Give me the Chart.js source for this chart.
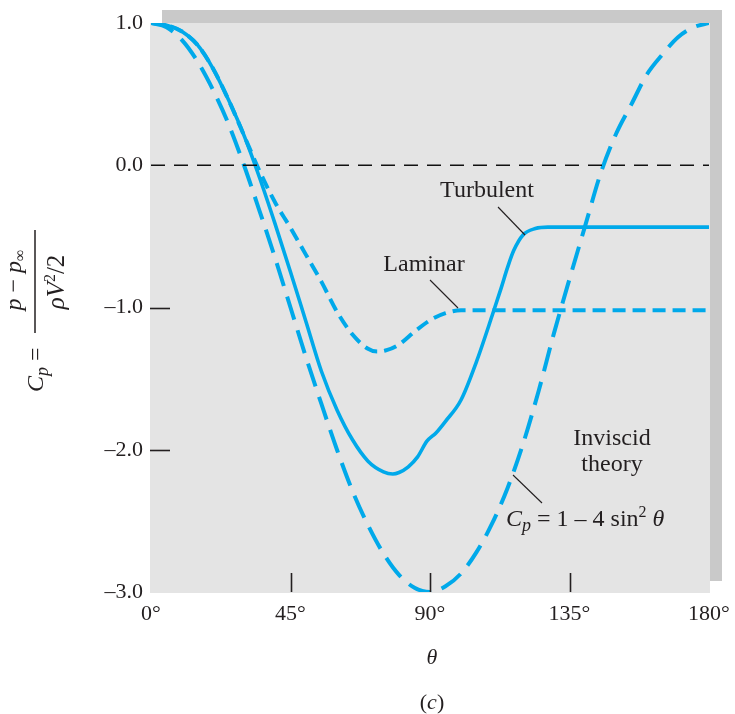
<!DOCTYPE html>
<html>
<head>
<meta charset="utf-8">
<script src="https://cdn.jsdelivr.net/npm/chart.js@4/dist/chart.umd.min.js"></script>
<style>
  html, body { margin: 0; padding: 0; background: #ffffff; }
  #wrap { width: 735px; height: 714px; position: relative; }
</style>
</head>
<body>
<div id="wrap"><canvas id="c" width="735" height="714"></canvas></div>
<script>
// ---- data ----
const thetaInviscid = [0,5,10,15,20,25,30,35,40,45,50,55,60,65,70,75,80,85,90,95,100,105,110,115,120,125,130,135,140,145,150,155,160,165,170,175,180];
const cpInviscid    = [1.0,0.97,0.88,0.73,0.53,0.29,0.0,-0.32,-0.65,-1.0,-1.35,-1.68,-2.0,-2.29,-2.53,-2.73,-2.88,-2.97,-3.0,-2.96,-2.87,-2.72,-2.52,-2.27,-1.96,-1.59,-1.18,-0.80,-0.43,-0.06,0.22,0.43,0.64,0.78,0.90,0.97,1.0];

const thetaTurbulent = [0,5,10,15,20,25,30,35,40,45,50,55,60,65,70,75,78,80,83,86,89,92,95,100,105,110,113,115,117,120,124,128,180];
const cpTurbulent    = [1.0,0.985,0.94,0.846,0.68,0.46,0.21,-0.086,-0.41,-0.75,-1.10,-1.45,-1.72,-1.93,-2.08,-2.155,-2.17,-2.16,-2.12,-2.05,-1.94,-1.88,-1.80,-1.65,-1.38,-1.06,-0.86,-0.72,-0.60,-0.49,-0.445,-0.435,-0.435];

const thetaLaminar = [0,5,10,15,20,25,30,35,40,45,50,55,60,65,70,73,76,80,85,90,95,100,180];
const cpLaminar    = [1.0,0.985,0.94,0.846,0.68,0.46,0.21,-0.04,-0.26,-0.44,-0.63,-0.82,-1.03,-1.19,-1.29,-1.31,-1.30,-1.26,-1.17,-1.09,-1.04,-1.02,-1.02];

const thetaZero = [0,180];
const cpZero    = [0,0];

const xTickValues = [0,45,90,135,180];
const yTickValues = [1,0,-1,-2,-3];
const xMarkTicks = [45,90,135];
const yMarkTicks = [-1,-2];

// ---- styling ----
const BLUE = '#00a9ea';
const INK = '#231f20';
const SERIF = '"Liberation Serif", "Times New Roman", serif';

function pts(xs, ys) { return xs.map((x, i) => ({ x: x, y: ys[i] })); }

function drawRuns(ctx, runs, x, y, align) {
  let total = 0;
  const widths = runs.map(r => {
    ctx.font = (r.it ? 'italic ' : '') + (r.size || 22) + 'px ' + SERIF;
    const w = ctx.measureText(r.t).width;
    total += w;
    return w;
  });
  let cur = align === 'center' ? x - total / 2 : (align === 'right' ? x - total : x);
  runs.forEach((r, i) => {
    ctx.font = (r.it ? 'italic ' : '') + (r.size || 22) + 'px ' + SERIF;
    ctx.fillText(r.t, cur, y + (r.dy || 0));
    cur += widths[i];
  });
}

const decor = {
  id: 'decor',
  beforeDraw(chart) {
    const ctx = chart.ctx, a = chart.chartArea;
    ctx.save();
    ctx.fillStyle = '#ffffff';
    ctx.fillRect(0, 0, chart.width, chart.height);
    // shadow band
    ctx.fillStyle = '#c9c9c9';
    ctx.fillRect(a.left + 11, a.top - 13, a.right - a.left + 2, 13);
    ctx.fillRect(a.right + 1, a.top - 13, 12, a.bottom - a.top + 2);
    // plot background
    ctx.fillStyle = '#e4e4e4';
    ctx.fillRect(a.left - 1, a.top, a.right - a.left + 2, a.bottom - a.top + 1);
    ctx.restore();
  },
  afterDraw(chart) {
    const ctx = chart.ctx, a = chart.chartArea;
    const xs = chart.scales.x, ys = chart.scales.y;
    ctx.save();
    // tick marks (inside)
    ctx.strokeStyle = INK;
    ctx.lineWidth = 1.6;
    xMarkTicks.forEach(v => {
      const px = Math.round(xs.getPixelForValue(v)) + 0.5;
      ctx.beginPath(); ctx.moveTo(px, a.bottom); ctx.lineTo(px, a.bottom - 19); ctx.stroke();
    });
    yMarkTicks.forEach(v => {
      const py = Math.round(ys.getPixelForValue(v)) + 0.5;
      ctx.beginPath(); ctx.moveTo(a.left - 1, py); ctx.lineTo(a.left + 19, py); ctx.stroke();
    });
    // leader lines
    ctx.lineWidth = 1.1;
    [[498, 207, 525, 235], [430, 280, 458, 308], [513, 475, 542, 503]].forEach(l => {
      ctx.beginPath(); ctx.moveTo(l[0], l[1]); ctx.lineTo(l[2], l[3]); ctx.stroke();
    });
    // annotations
    ctx.fillStyle = INK;
    ctx.textBaseline = 'alphabetic';
    drawRuns(ctx, [{ t: 'Turbulent', size: 24 }], 487, 197, 'center');
    drawRuns(ctx, [{ t: 'Laminar', size: 24 }], 424, 271, 'center');
    drawRuns(ctx, [{ t: 'Inviscid', size: 24 }], 612, 445, 'center');
    drawRuns(ctx, [{ t: 'theory', size: 24 }], 612, 471, 'center');
    drawRuns(ctx, [
      { t: 'C', it: true, size: 24 },
      { t: 'p', it: true, size: 18, dy: 5 },
      { t: ' = 1 \u2013 4 sin', size: 24 },
      { t: '2', size: 16, dy: -9 },
      { t: ' \u03b8', it: true, size: 24 }
    ], 506, 526, 'left');
    // x axis title and caption
    drawRuns(ctx, [{ t: '\u03b8', it: true, size: 22 }], 432, 664, 'center');
    drawRuns(ctx, [{ t: '(', size: 22 }, { t: 'c', it: true, size: 22 }, { t: ')', size: 22 }], 432, 709, 'center');
    // y axis title (rotated fraction)
    ctx.save();
    ctx.rotate(-Math.PI / 2);
    drawRuns(ctx, [
      { t: 'C', it: true, size: 24 },
      { t: 'p', it: true, size: 18, dy: 5 },
      { t: ' =', size: 24 }
    ], -392, 43, 'left');
    drawRuns(ctx, [
      { t: 'p', it: true, size: 24 },
      { t: ' \u2212 ', size: 24 },
      { t: 'p', it: true, size: 24 },
      { t: '\u221e', size: 16, dy: 4 }
    ], -280, 21, 'center');
    drawRuns(ctx, [
      { t: '\u03c1V', it: true, size: 25 },
      { t: '2', size: 16, dy: -9 },
      { t: '/2', size: 25 }
    ], -282, 64, 'center');
    ctx.strokeStyle = INK;
    ctx.lineWidth = 1.5;
    ctx.beginPath(); ctx.moveTo(-333, 35); ctx.lineTo(-230, 35); ctx.stroke();
    ctx.restore();
    ctx.restore();
  }
};

const common = { fill: false, pointRadius: 0, cubicInterpolationMode: 'monotone', borderCapStyle: 'butt' };

new Chart(document.getElementById('c'), {
  type: 'line',
  data: {
    datasets: [
      Object.assign({ label: 'zero', data: pts(thetaZero, cpZero), borderColor: '#111111', borderWidth: 1.6, borderDash: [14, 9], tension: 0 }, common),
      Object.assign({ label: 'Inviscid theory', data: pts(thetaInviscid, cpInviscid), borderColor: BLUE, borderWidth: 4, borderDash: [24, 11] }, common),
      Object.assign({ label: 'Laminar', data: pts(thetaLaminar, cpLaminar), borderColor: BLUE, borderWidth: 4, borderDash: [13, 7] }, common),
      Object.assign({ label: 'Turbulent', data: pts(thetaTurbulent, cpTurbulent), borderColor: BLUE, borderWidth: 3.6 }, common)
    ]
  },
  options: {
    responsive: false,
    animation: false,
    devicePixelRatio: 1,
    layout: { padding: { top: 23, right: 26, bottom: 0, left: 0 } },
    plugins: { legend: { display: false }, tooltip: { enabled: false } },
    scales: {
      x: {
        type: 'linear', min: 0, max: 180,
        afterFit: s => { s.height = 714 - 23 - (592 - 23); s.paddingLeft = 0; s.paddingRight = 0; },
        afterBuildTicks: s => { s.ticks = xTickValues.map(v => ({ value: v })); },
        grid: { display: false, drawTicks: false },
        border: { display: false },
        ticks: { padding: 9, color: INK, font: { family: SERIF, size: 22 }, callback: v => v + '\u00b0', maxRotation: 0, autoSkip: false }
      },
      y: {
        type: 'linear', min: -3, max: 1,
        afterFit: s => { s.width = 151; s.paddingTop = 0; s.paddingBottom = 0; },
        afterBuildTicks: s => { s.ticks = yTickValues.map(v => ({ value: v })); },
        grid: { display: false, drawTicks: false },
        border: { display: false },
        ticks: { padding: 8, color: INK, font: { family: SERIF, size: 22 }, callback: v => (v < 0 ? '\u2013' : '') + Math.abs(v).toFixed(1), autoSkip: false }
      }
    }
  },
  plugins: [decor]
});
</script>
</body>
</html>
